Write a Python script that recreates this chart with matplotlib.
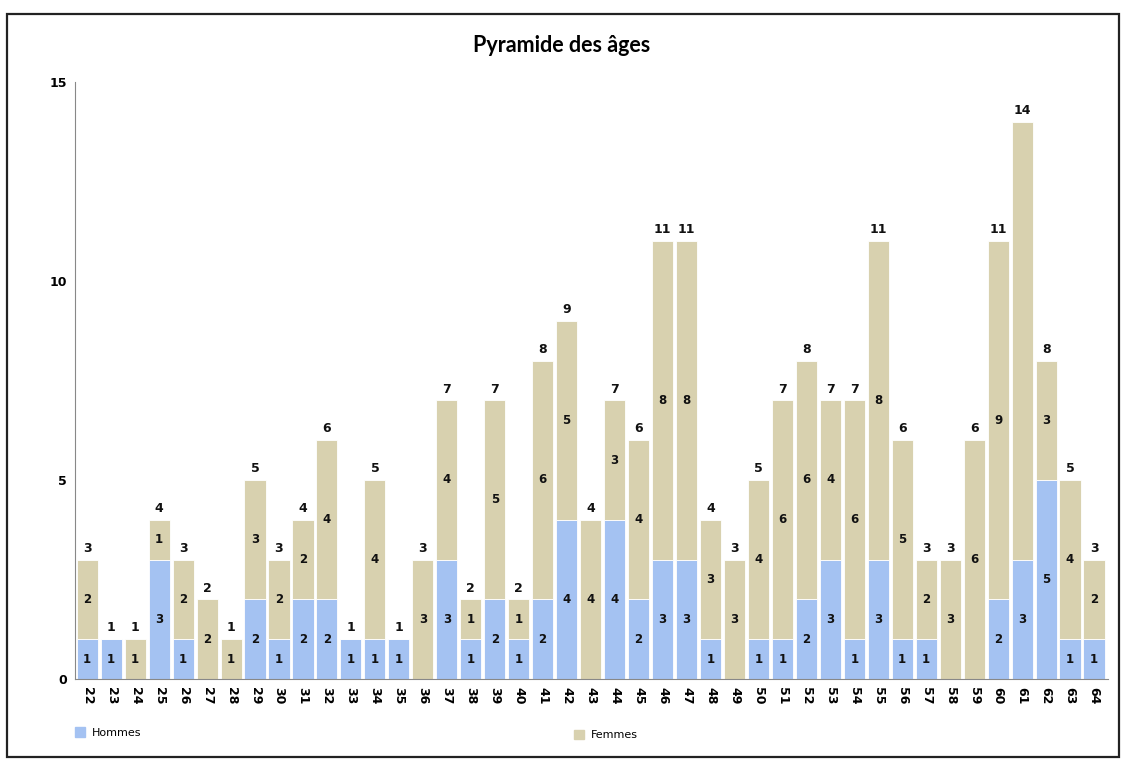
import matplotlib
matplotlib.use("Agg")
import matplotlib.pyplot as plt
from matplotlib.patches import Patch, Rectangle

ages = list(range(22, 65))
hommes = [1, 1, 0, 3, 1, 0, 0, 2, 1, 2, 2, 1, 1, 1, 0, 3, 1, 2, 1, 2, 4, 0,
          4, 2, 3, 3, 1, 0, 1, 1, 2, 3, 1, 3, 1, 1, 0, 0, 2, 3, 5, 1, 1]
femmes = [2, 0, 1, 1, 2, 2, 1, 3, 2, 2, 4, 0, 4, 0, 3, 4, 1, 5, 1, 6, 5, 4,
          3, 4, 8, 8, 3, 3, 4, 6, 6, 4, 6, 8, 5, 2, 3, 6, 9, 11, 3, 4, 2]

col_h = "#a4c2f2"
col_f = "#d8d1af"

fig = plt.figure(figsize=(11.23, 7.6), dpi=100)
ax = fig.add_axes([0.067, 0.1066, 0.92, 0.7855])

x = list(range(len(ages)))
ax.bar(x, hommes, width=0.88, color=col_h, edgecolor="white", linewidth=0.6)
ax.bar(x, femmes, bottom=hommes, width=0.88, color=col_f, edgecolor="white", linewidth=0.6)

lab = dict(ha="center", va="center", fontsize=8.5, fontweight="bold", color="#111111")
for i in x:
    h, f = hommes[i], femmes[i]
    if h > 0:
        ax.text(i, h / 2, str(h), **lab)
    if f > 0 and ages[i] != 61:
        ax.text(i, h + f / 2, str(f), **lab)
    ax.text(i, h + f + 0.12, str(h + f), ha="center", va="bottom",
            fontsize=9, fontweight="bold", color="#111111")

ax.set_xlim(-0.5, len(ages) - 0.4)
ax.set_ylim(0, 15)
ax.set_yticks([0, 5, 10, 15])
ax.set_xticks(x)
ax.set_xticklabels([str(a) for a in ages], rotation=-90, fontsize=9, fontweight="bold")
for t in ax.get_yticklabels():
    t.set_fontweight("bold")
    t.set_fontsize(9)
ax.tick_params(axis="both", length=0, pad=6)
ax.spines["top"].set_visible(False)
ax.spines["right"].set_visible(False)
ax.spines["left"].set_color("#888888")
ax.spines["bottom"].set_color("#888888")

fig.text(0.5, 0.94, "Pyramide des âges", ha="center", va="center",
         fontsize=15.5, fontweight="bold", family=["Lato", "DejaVu Sans"])

fig.legend(handles=[Patch(color=col_h, label="Hommes")], loc="center left",
           bbox_to_anchor=(0.058, 0.036), frameon=False, fontsize=8,
           handlelength=0.9, handleheight=0.9, handletextpad=0.6)
fig.legend(handles=[Patch(color=col_f, label="Femmes")], loc="center left",
           bbox_to_anchor=(0.502, 0.033), frameon=False, fontsize=8,
           handlelength=0.9, handleheight=0.9, handletextpad=0.6)

fig.patches.append(Rectangle((0.006, 0.004), 0.99, 0.978, transform=fig.transFigure,
                             fill=False, edgecolor="#222222", linewidth=1.6))

fig.savefig("out.png", dpi=100)
